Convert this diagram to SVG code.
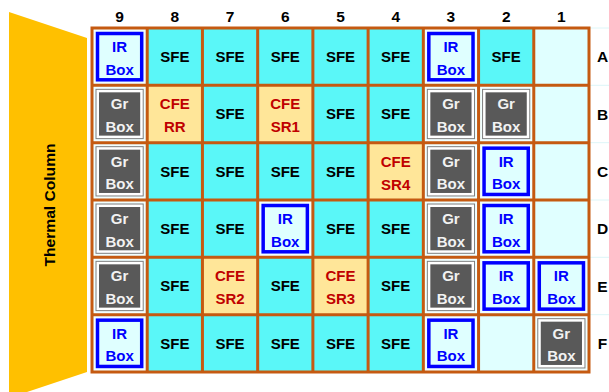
<svg xmlns="http://www.w3.org/2000/svg" width="609" height="392" viewBox="0 0 609 392">
<style>
text{font-family:"Liberation Sans",Arial,sans-serif;font-weight:bold;text-anchor:middle}
.lbl{font-size:15.5px;fill:#000}
.t{font-size:15px}
.sfe{fill:#5AF7F8}
.emp{fill:#E0FFFF}
.cfe{fill:#FFE699}
.wb{fill:#F0FFFF}
.irb{fill:#DFFFFF;stroke:#0000FF;stroke-width:3.5}
.gro{fill:#FFFFFF;stroke:#7F7F7F;stroke-width:1}
.gri{fill:#595959}
.k{fill:#000}
.b{fill:#0000FF}
.r{fill:#C00000}
.w{fill:#F2F2F2}
.grid{stroke:#C55A11;stroke-width:3;fill:none}
.faint{stroke:#DDF6F8;stroke-width:1}
</style>
<defs>
<rect id="bg" x="0" y="0" width="55.22" height="57.33"/>
</defs>
<g id="thermal-column">
<polygon points="9,12 87,38 87,372 9,398" fill="#FFC000"/>
<text transform="translate(54.5,205) rotate(-90)" font-size="14.5" textLength="123" lengthAdjust="spacingAndGlyphs">Thermal Column</text>
</g>
<g id="col-labels">
<text class="lbl" x="119.6" y="21.5">9</text>
<text class="lbl" x="174.8" y="21.5">8</text>
<text class="lbl" x="230.1" y="21.5">7</text>
<text class="lbl" x="285.3" y="21.5">6</text>
<text class="lbl" x="340.5" y="21.5">5</text>
<text class="lbl" x="395.7" y="21.5">4</text>
<text class="lbl" x="450.9" y="21.5">3</text>
<text class="lbl" x="506.2" y="21.5">2</text>
<text class="lbl" x="561.4" y="21.5">1</text>
</g>
<g id="faint-lines">
<line class="faint" x1="590" y1="28" x2="609" y2="28"/>
<line class="faint" x1="590" y1="85.3" x2="609" y2="85.3"/>
<line class="faint" x1="590" y1="142.7" x2="609" y2="142.7"/>
<line class="faint" x1="590" y1="200" x2="609" y2="200"/>
<line class="faint" x1="590" y1="257.3" x2="609" y2="257.3"/>
<line class="faint" x1="590" y1="314.7" x2="609" y2="314.7"/>
</g>
<g id="row-labels">
<text class="lbl" x="602.5" y="62.3">A</text>
<text class="lbl" x="602.5" y="119.6">B</text>
<text class="lbl" x="602.5" y="177">C</text>
<text class="lbl" x="602.5" y="234.3">D</text>
<text class="lbl" x="602.5" y="291.6">E</text>
<text class="lbl" x="602.5" y="349">F</text>
</g>

<!-- Row A -->
<g id="A9" transform="translate(92,28)"><use href="#bg" class="wb"/><rect class="irb" x="5.5" y="5.5" width="44.2" height="46.3"/><text class="t b" x="27.6" y="24">IR</text><text class="t b" x="27.6" y="46.5">Box</text></g>
<g id="A8" transform="translate(147.22,28)"><use href="#bg" class="sfe"/><text class="t k" x="27.6" y="34">SFE</text></g>
<g id="A7" transform="translate(202.44,28)"><use href="#bg" class="sfe"/><text class="t k" x="27.6" y="34">SFE</text></g>
<g id="A6" transform="translate(257.67,28)"><use href="#bg" class="sfe"/><text class="t k" x="27.6" y="34">SFE</text></g>
<g id="A5" transform="translate(312.89,28)"><use href="#bg" class="sfe"/><text class="t k" x="27.6" y="34">SFE</text></g>
<g id="A4" transform="translate(368.11,28)"><use href="#bg" class="sfe"/><text class="t k" x="27.6" y="34">SFE</text></g>
<g id="A3" transform="translate(423.33,28)"><use href="#bg" class="wb"/><rect class="irb" x="5.5" y="5.5" width="44.2" height="46.3"/><text class="t b" x="27.6" y="24">IR</text><text class="t b" x="27.6" y="46.5">Box</text></g>
<g id="A2" transform="translate(478.56,28)"><use href="#bg" class="sfe"/><text class="t k" x="27.6" y="34">SFE</text></g>
<g id="A1" transform="translate(533.78,28)"><use href="#bg" class="emp"/></g>

<!-- Row B -->
<g id="B9" transform="translate(92,85.33)"><use href="#bg" class="wb"/><rect class="gro" x="4" y="4" width="47.2" height="49.3"/><rect class="gri" x="7" y="7" width="41.2" height="43.3"/><text class="t w" x="27.6" y="24">Gr</text><text class="t w" x="27.6" y="46.5">Box</text></g>
<g id="B8" transform="translate(147.22,85.33)"><use href="#bg" class="cfe"/><text class="t r" x="27.6" y="24">CFE</text><text class="t r" x="27.6" y="47">RR</text></g>
<g id="B7" transform="translate(202.44,85.33)"><use href="#bg" class="sfe"/><text class="t k" x="27.6" y="34">SFE</text></g>
<g id="B6" transform="translate(257.67,85.33)"><use href="#bg" class="cfe"/><text class="t r" x="27.6" y="24">CFE</text><text class="t r" x="27.6" y="47">SR1</text></g>
<g id="B5" transform="translate(312.89,85.33)"><use href="#bg" class="sfe"/><text class="t k" x="27.6" y="34">SFE</text></g>
<g id="B4" transform="translate(368.11,85.33)"><use href="#bg" class="sfe"/><text class="t k" x="27.6" y="34">SFE</text></g>
<g id="B3" transform="translate(423.33,85.33)"><use href="#bg" class="wb"/><rect class="gro" x="4" y="4" width="47.2" height="49.3"/><rect class="gri" x="7" y="7" width="41.2" height="43.3"/><text class="t w" x="27.6" y="24">Gr</text><text class="t w" x="27.6" y="46.5">Box</text></g>
<g id="B2" transform="translate(478.56,85.33)"><use href="#bg" class="wb"/><rect class="gro" x="4" y="4" width="47.2" height="49.3"/><rect class="gri" x="7" y="7" width="41.2" height="43.3"/><text class="t w" x="27.6" y="24">Gr</text><text class="t w" x="27.6" y="46.5">Box</text></g>
<g id="B1" transform="translate(533.78,85.33)"><use href="#bg" class="emp"/></g>

<!-- Row C -->
<g id="C9" transform="translate(92,142.67)"><use href="#bg" class="wb"/><rect class="gro" x="4" y="4" width="47.2" height="49.3"/><rect class="gri" x="7" y="7" width="41.2" height="43.3"/><text class="t w" x="27.6" y="24">Gr</text><text class="t w" x="27.6" y="46.5">Box</text></g>
<g id="C8" transform="translate(147.22,142.67)"><use href="#bg" class="sfe"/><text class="t k" x="27.6" y="34">SFE</text></g>
<g id="C7" transform="translate(202.44,142.67)"><use href="#bg" class="sfe"/><text class="t k" x="27.6" y="34">SFE</text></g>
<g id="C6" transform="translate(257.67,142.67)"><use href="#bg" class="sfe"/><text class="t k" x="27.6" y="34">SFE</text></g>
<g id="C5" transform="translate(312.89,142.67)"><use href="#bg" class="sfe"/><text class="t k" x="27.6" y="34">SFE</text></g>
<g id="C4" transform="translate(368.11,142.67)"><use href="#bg" class="cfe"/><text class="t r" x="27.6" y="24">CFE</text><text class="t r" x="27.6" y="47">SR4</text></g>
<g id="C3" transform="translate(423.33,142.67)"><use href="#bg" class="wb"/><rect class="gro" x="4" y="4" width="47.2" height="49.3"/><rect class="gri" x="7" y="7" width="41.2" height="43.3"/><text class="t w" x="27.6" y="24">Gr</text><text class="t w" x="27.6" y="46.5">Box</text></g>
<g id="C2" transform="translate(478.56,142.67)"><use href="#bg" class="wb"/><rect class="irb" x="5.5" y="5.5" width="44.2" height="46.3"/><text class="t b" x="27.6" y="24">IR</text><text class="t b" x="27.6" y="46.5">Box</text></g>
<g id="C1" transform="translate(533.78,142.67)"><use href="#bg" class="emp"/></g>

<!-- Row D -->
<g id="D9" transform="translate(92,200)"><use href="#bg" class="wb"/><rect class="gro" x="4" y="4" width="47.2" height="49.3"/><rect class="gri" x="7" y="7" width="41.2" height="43.3"/><text class="t w" x="27.6" y="24">Gr</text><text class="t w" x="27.6" y="46.5">Box</text></g>
<g id="D8" transform="translate(147.22,200)"><use href="#bg" class="sfe"/><text class="t k" x="27.6" y="34">SFE</text></g>
<g id="D7" transform="translate(202.44,200)"><use href="#bg" class="sfe"/><text class="t k" x="27.6" y="34">SFE</text></g>
<g id="D6" transform="translate(257.67,200)"><use href="#bg" class="wb"/><rect class="irb" x="5.5" y="5.5" width="44.2" height="46.3"/><text class="t b" x="27.6" y="24">IR</text><text class="t b" x="27.6" y="46.5">Box</text></g>
<g id="D5" transform="translate(312.89,200)"><use href="#bg" class="sfe"/><text class="t k" x="27.6" y="34">SFE</text></g>
<g id="D4" transform="translate(368.11,200)"><use href="#bg" class="sfe"/><text class="t k" x="27.6" y="34">SFE</text></g>
<g id="D3" transform="translate(423.33,200)"><use href="#bg" class="wb"/><rect class="gro" x="4" y="4" width="47.2" height="49.3"/><rect class="gri" x="7" y="7" width="41.2" height="43.3"/><text class="t w" x="27.6" y="24">Gr</text><text class="t w" x="27.6" y="46.5">Box</text></g>
<g id="D2" transform="translate(478.56,200)"><use href="#bg" class="wb"/><rect class="irb" x="5.5" y="5.5" width="44.2" height="46.3"/><text class="t b" x="27.6" y="24">IR</text><text class="t b" x="27.6" y="46.5">Box</text></g>
<g id="D1" transform="translate(533.78,200)"><use href="#bg" class="emp"/></g>

<!-- Row E -->
<g id="E9" transform="translate(92,257.33)"><use href="#bg" class="wb"/><rect class="gro" x="4" y="4" width="47.2" height="49.3"/><rect class="gri" x="7" y="7" width="41.2" height="43.3"/><text class="t w" x="27.6" y="24">Gr</text><text class="t w" x="27.6" y="46.5">Box</text></g>
<g id="E8" transform="translate(147.22,257.33)"><use href="#bg" class="sfe"/><text class="t k" x="27.6" y="34">SFE</text></g>
<g id="E7" transform="translate(202.44,257.33)"><use href="#bg" class="cfe"/><text class="t r" x="27.6" y="24">CFE</text><text class="t r" x="27.6" y="47">SR2</text></g>
<g id="E6" transform="translate(257.67,257.33)"><use href="#bg" class="sfe"/><text class="t k" x="27.6" y="34">SFE</text></g>
<g id="E5" transform="translate(312.89,257.33)"><use href="#bg" class="cfe"/><text class="t r" x="27.6" y="24">CFE</text><text class="t r" x="27.6" y="47">SR3</text></g>
<g id="E4" transform="translate(368.11,257.33)"><use href="#bg" class="sfe"/><text class="t k" x="27.6" y="34">SFE</text></g>
<g id="E3" transform="translate(423.33,257.33)"><use href="#bg" class="wb"/><rect class="gro" x="4" y="4" width="47.2" height="49.3"/><rect class="gri" x="7" y="7" width="41.2" height="43.3"/><text class="t w" x="27.6" y="24">Gr</text><text class="t w" x="27.6" y="46.5">Box</text></g>
<g id="E2" transform="translate(478.56,257.33)"><use href="#bg" class="wb"/><rect class="irb" x="5.5" y="5.5" width="44.2" height="46.3"/><text class="t b" x="27.6" y="24">IR</text><text class="t b" x="27.6" y="46.5">Box</text></g>
<g id="E1" transform="translate(533.78,257.33)"><use href="#bg" class="wb"/><rect class="irb" x="5.5" y="5.5" width="44.2" height="46.3"/><text class="t b" x="27.6" y="24">IR</text><text class="t b" x="27.6" y="46.5">Box</text></g>

<!-- Row F -->
<g id="F9" transform="translate(92,314.67)"><use href="#bg" class="wb"/><rect class="irb" x="5.5" y="5.5" width="44.2" height="46.3"/><text class="t b" x="27.6" y="24">IR</text><text class="t b" x="27.6" y="46.5">Box</text></g>
<g id="F8" transform="translate(147.22,314.67)"><use href="#bg" class="sfe"/><text class="t k" x="27.6" y="34">SFE</text></g>
<g id="F7" transform="translate(202.44,314.67)"><use href="#bg" class="sfe"/><text class="t k" x="27.6" y="34">SFE</text></g>
<g id="F6" transform="translate(257.67,314.67)"><use href="#bg" class="sfe"/><text class="t k" x="27.6" y="34">SFE</text></g>
<g id="F5" transform="translate(312.89,314.67)"><use href="#bg" class="sfe"/><text class="t k" x="27.6" y="34">SFE</text></g>
<g id="F4" transform="translate(368.11,314.67)"><use href="#bg" class="sfe"/><text class="t k" x="27.6" y="34">SFE</text></g>
<g id="F3" transform="translate(423.33,314.67)"><use href="#bg" class="wb"/><rect class="irb" x="5.5" y="5.5" width="44.2" height="46.3"/><text class="t b" x="27.6" y="24">IR</text><text class="t b" x="27.6" y="46.5">Box</text></g>
<g id="F2" transform="translate(478.56,314.67)"><use href="#bg" class="emp"/></g>
<g id="F1" transform="translate(533.78,314.67)"><use href="#bg" class="wb"/><rect class="gro" x="4" y="4" width="47.2" height="49.3"/><rect class="gri" x="7" y="7" width="41.2" height="43.3"/><text class="t w" x="27.6" y="24">Gr</text><text class="t w" x="27.6" y="46.5">Box</text></g>

<g id="grid-lines">
<rect class="grid" x="92" y="28" width="497" height="344"/>
<path class="grid" d="M147.22 28V372M202.44 28V372M257.67 28V372M312.89 28V372M368.11 28V372M423.33 28V372M478.56 28V372M533.78 28V372M92 85.33H589M92 142.67H589M92 200H589M92 257.33H589M92 314.67H589"/>
</g>
</svg>
